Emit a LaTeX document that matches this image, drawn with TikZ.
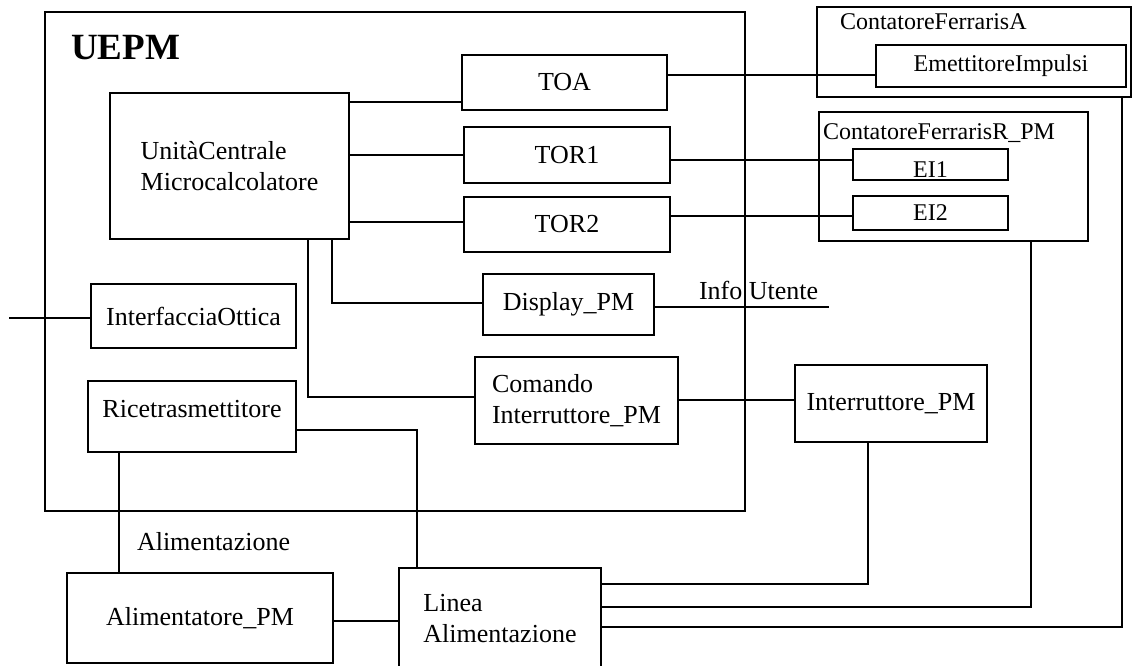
\documentclass[tikz,border=0pt]{standalone}
\usepackage{fontspec}
\setmainfont{Liberation Serif}
\begin{document}
\begin{tikzpicture}[x=1pt, y=-1pt, line width=2pt,
    blocco/.style={draw, rectangle, inner sep=0pt, align=left, font=\fontsize{26}{31}\selectfont},
    piccolo/.style={font=\fontsize{24}{28}\selectfont},
    testo/.style={inner sep=0pt, anchor=base west, font=\fontsize{26}{31}\selectfont}]
  \useasboundingbox (0,0) rectangle (1133,666);

  \node[blocco, minimum width=700pt, minimum height=499pt] (uepm) at (395,261.5) {};
  \node[inner sep=0pt, anchor=base west, font=\bfseries\fontsize{37}{40}\selectfont] (uepmname) at (70,60) {UEPM};

  \node[blocco, minimum width=239pt, minimum height=146pt] (cpu) at (229.5,166) {UnitàCentrale\\Microcalcolatore};
  \node[blocco, minimum width=205pt, minimum height=55pt] (toa) at (564.5,82.5) {TOA};
  \node[blocco, minimum width=206pt, minimum height=56pt] (tor1) at (567,155) {TOR1};
  \node[blocco, minimum width=206pt, minimum height=55pt] (tor2) at (567,224.5) {TOR2};
  \node[blocco, minimum width=205pt, minimum height=64pt] (ottica) at (193.5,316) {InterfacciaOttica};
  \node[blocco, minimum width=208pt, minimum height=71pt, text depth=16pt] (ricetras) at (192,416.5) {Ricetrasmettitore};
  \node[blocco, minimum width=171pt, minimum height=61pt] (display) at (568.5,304.5) {Display\_PM};
  \node[blocco, minimum width=203pt, minimum height=87pt] (comando) at (576.5,400.5) {Comando\\Interruttore\_PM};
  \node[blocco, minimum width=192pt, minimum height=77pt] (interr) at (891,403.5) {Interruttore\_PM};
  \node[blocco, minimum width=266pt, minimum height=90pt] (alim) at (200,618) {Alimentatore\_PM};
  \node[blocco, minimum width=202pt, minimum height=102pt, anchor=north west] (linea) at (398,567) {Linea\\Alimentazione};

  \node[blocco, minimum width=314pt, minimum height=90pt] (cfa) at (974,52) {};
  \node[testo, piccolo] (cfaname) at (839,30) {ContatoreFerrarisA};
  \node[blocco, piccolo, minimum width=250pt, minimum height=42pt] (emit) at (1001,66) {EmettitoreImpulsi};
  \node[blocco, minimum width=269pt, minimum height=129pt] (cfr) at (953.5,176.5) {};
  \node[testo, piccolo] (cfrname) at (822,140) {ContatoreFerrarisR\_PM};
  \node[blocco, piccolo, minimum width=155pt, minimum height=31pt, text height=27pt] (ei1) at (930.5,164.5) {EI1};
  \node[blocco, piccolo, minimum width=155pt, minimum height=34pt] (ei2) at (930.5,213) {EI2};

  \node[testo] (infotxt) at (698,299) {Info Utente};
  \node[testo] (alimtxt) at (136,550) {Alimentazione};
  \coordinate (infoend) at (829,307);
  \coordinate (otticain) at (9,318);

  \draw (cpu.east |- 0,102) -- (toa.west |- 0,102);
  \draw (cpu.east |- 0,155) -- (tor1.west |- 0,155);
  \draw (cpu.east |- 0,222) -- (tor2.west |- 0,222);
  \draw (toa.east |- 0,75) -- (emit.west |- 0,75);
  \draw (tor1.east |- 0,160) -- (ei1.west |- 0,160);
  \draw (tor2.east |- 0,216) -- (ei2.west |- 0,216);
  \draw (cpu.south -| 308,0) |- (comando.west |- 0,397);
  \draw (cpu.south -| 332,0) |- (display.west |- 0,303);
  \draw (display.east |- 0,307) -- (infoend);
  \draw (otticain) -- (ottica.west |- otticain);
  \draw (comando.east |- 0,400) -- (interr.west |- 0,400);
  \draw (ricetras.east |- 0,430) -| (linea.north -| 417,0);
  \draw (ricetras.south -| 119,0) -- (alim.north -| 119,0);
  \draw (alim.east |- 0,621) -- (linea.west |- 0,621);
  \draw (interr.south -| 868,0) |- (linea.east |- 0,584);
  \draw (cfr.south -| 1031,0) |- (linea.east |- 0,607);
  \draw (cfa.south -| 1122,0) |- (linea.east |- 0,627);
\end{tikzpicture}
\end{document}
